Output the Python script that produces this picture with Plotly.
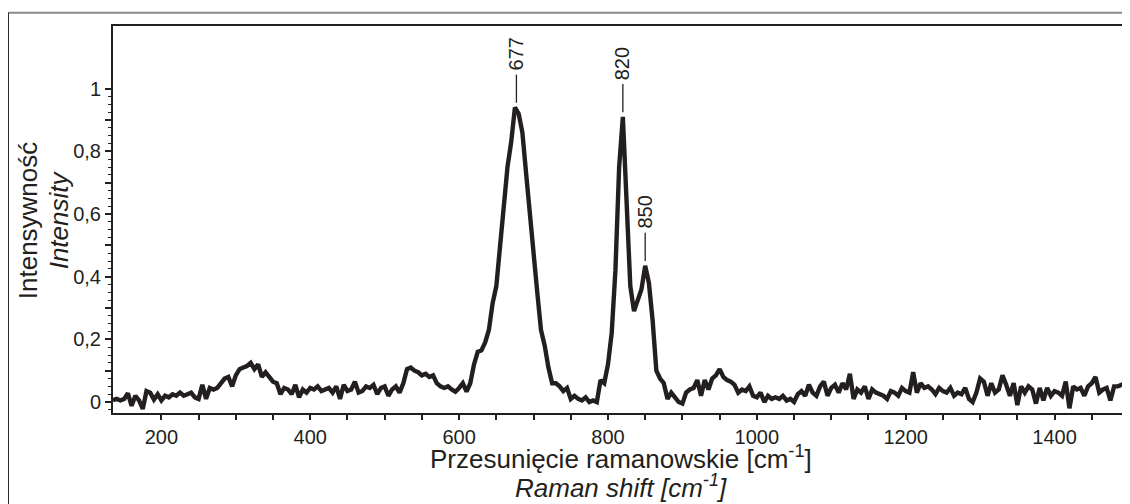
import numpy as np
import plotly.graph_objects as go

# Raman shift grid (cm^-1), sampled every 5 cm^-1
shift_start, shift_stop, shift_step = 135, 1500, 5

# Intensity (normalised)
intensity = [
    0.006, 0.01, 0.005, 0.01, 0.028, -0.012, 0.02, 0.005, -0.022, 0.035,   # 135-180
    0.03, 0.008, 0.025, 0.005, 0.02, 0.015, 0.025, 0.02, 0.03, 0.02,       # 185-230
    0.025, 0.03, 0.015, 0.01, 0.055, 0.01, 0.045, 0.04, 0.045, 0.06,       # 235-280
    0.075, 0.08, 0.05, 0.085, 0.105, 0.11, 0.115, 0.125, 0.105, 0.12,      # 285-330
    0.08, 0.095, 0.08, 0.065, 0.06, 0.025, 0.045, 0.04, 0.025, 0.055,      # 335-380
    0.015, 0.04, 0.03, 0.045, 0.04, 0.05, 0.035, 0.04, 0.045, 0.03,        # 385-430
    0.05, 0.01, 0.055, 0.035, 0.04, 0.065, 0.03, 0.035, 0.05, 0.045,       # 435-480
    0.055, 0.025, 0.045, 0.05, 0.02, 0.04, 0.05, 0.03, 0.06, 0.105,        # 485-530
    0.11, 0.1, 0.095, 0.085, 0.09, 0.08, 0.085, 0.06, 0.05, 0.045,         # 535-580
    0.05, 0.04, 0.033, 0.045, 0.06, 0.033, 0.06, 0.12, 0.16, 0.165,        # 585-630
    0.19, 0.23, 0.315, 0.37, 0.5, 0.62, 0.75, 0.83, 0.94, 0.92,            # 635-680
    0.86, 0.73, 0.59, 0.45, 0.35, 0.23, 0.18, 0.11, 0.06, 0.06,            # 685-730
    0.05, 0.035, 0.045, 0.01, 0.02, 0.01, 0.005, 0.015, 0.0, 0.005,        # 735-780
    0.0, 0.07, 0.06, 0.12, 0.22, 0.42, 0.75, 0.91, 0.6, 0.37,              # 785-830
    0.29, 0.33, 0.36, 0.435, 0.38, 0.26, 0.1, 0.075, 0.06, 0.01,           # 835-880
    0.03, 0.015, 0.0, -0.005, 0.03, 0.04, 0.045, 0.07, 0.02, 0.07,         # 885-930
    0.04, 0.075, 0.085, 0.105, 0.08, 0.07, 0.065, 0.055, 0.03, 0.04,       # 935-980
    0.035, 0.05, 0.02, 0.015, 0.03, 0.0, 0.02, 0.01, 0.015, 0.01,          # 985-1030
    0.02, 0.005, 0.01, 0.0, 0.025, 0.035, 0.02, 0.055, 0.03, 0.02,         # 1035-1080
    0.05, 0.065, 0.02, 0.045, 0.055, 0.03, 0.06, 0.04, 0.09, 0.01,         # 1085-1130
    0.04, 0.03, 0.05, 0.01, 0.04, 0.03, 0.025, 0.02, 0.01, 0.035,          # 1135-1180
    0.03, 0.02, 0.045, 0.035, 0.03, 0.095, 0.03, 0.06, 0.045, 0.05,        # 1185-1230
    0.04, 0.025, 0.045, 0.035, 0.03, 0.045, 0.02, 0.03, 0.025, 0.045,      # 1235-1280
    0.01, 0.0, 0.03, 0.075, 0.065, 0.02, 0.06, 0.03, 0.04, 0.085,          # 1285-1330
    0.055, 0.02, 0.06, -0.01, 0.05, 0.03, 0.05, 0.04, -0.005, 0.045,       # 1335-1380
    0.005, 0.045, 0.02, 0.035, 0.03, 0.02, 0.065, -0.02, 0.05, 0.04,       # 1385-1430
    0.045, 0.02, 0.05, 0.06, 0.08, 0.03, 0.04, 0.045, 0.005, 0.05,         # 1435-1480
    0.05, 0.055, 0.06, 0.07,                                               # 1485-1500
]
shift = np.arange(shift_start, shift_stop + 1, shift_step)
assert len(shift) == len(intensity)

# Labelled peaks
peak_labels = [677, 820, 850]

# Tick labels
x_tick_vals = [200, 400, 600, 800, 1000, 1200, 1400]
y_tick_vals = [0, 0.1, 0.2, 0.3, 0.4, 0.5, 0.6, 0.7, 0.8, 0.9, 1.0]
y_tick_text = ["0", "", "0,2", "", "0,4", "", "0,6", "", "0,8", "", "1"]

# Axis titles
x_title = ["Przesunięcie ramanowskie [cm<sup>-1</sup>]", "<i>Raman shift [cm<sup>-1</sup>]</i>"]
y_title = ["Intensywność", "<i>Intensity</i>"]

INK = "#231f20"
FONT = "Liberation Sans, Arial, Helvetica, sans-serif"

fig = go.Figure()
fig.add_trace(go.Scatter(
    x=shift, y=intensity, mode="lines",
    line=dict(color=INK, width=4.4), showlegend=False, hoverinfo="skip",
))

x_minor = [v for v in range(250, 1501, 50) if v % 200 != 0]
y_minor = [round(i * 0.025, 3) for i in range(-1, 41) if i % 4 != 0]

fig.update_xaxes(
    range=[135, 1500], showgrid=False, zeroline=False,
    showline=True, mirror=True, linecolor=INK, linewidth=2,
    ticks="outside", ticklen=5, tickwidth=1.5, tickcolor=INK,
    tickmode="array", tickvals=x_tick_vals,
    tickfont=dict(family=FONT, size=20, color=INK),
    minor=dict(tickmode="array", tickvals=x_minor, ticks="outside",
               ticklen=5, tickwidth=1.5, tickcolor=INK, showgrid=False),
)
fig.update_yaxes(
    range=[-0.035, 1.2], showgrid=False, zeroline=False,
    showline=True, mirror=True, linecolor=INK, linewidth=2,
    ticks="outside", ticklen=6, tickwidth=1.5, tickcolor=INK,
    tickmode="array", tickvals=y_tick_vals, ticktext=y_tick_text,
    tickfont=dict(family=FONT, size=20, color=INK),
    minor=dict(tickmode="array", tickvals=y_minor, ticks="outside",
               ticklen=3.5, tickwidth=1.2, tickcolor=INK, showgrid=False),
)

shapes = []
annotations = []
# Peak markers: short vertical line above the peak and rotated label
for p in peak_labels:
    near = [v for s, v in zip(shift, intensity) if abs(s - p) <= 5]
    top = max(near)
    y0 = top + 0.015
    y1 = y0 + 0.09
    shapes.append(dict(type="line", xref="x", yref="y", x0=p, x1=p, y0=y0, y1=y1,
                       line=dict(color=INK, width=1.3)))
    annotations.append(dict(
        x=p, y=y1, xref="x", yref="y", text=str(p), showarrow=False,
        textangle=-90, xanchor="center", yanchor="bottom", yshift=2,
        font=dict(family=FONT, size=20, color=INK),
    ))

# Axis titles, one annotation per line
for txt, yy in zip(x_title, [-0.116, -0.19]):
    annotations.append(dict(
        x=0.5, y=yy, xref="paper", yref="paper", text=txt,
        showarrow=False, xanchor="center", yanchor="middle",
        font=dict(family=FONT, size=26, color=INK),
    ))
for txt, xx in zip(y_title, [-0.0837, -0.0531]):
    annotations.append(dict(
        x=xx, y=0.498, xref="paper", yref="paper", text=txt,
        showarrow=False, textangle=-90, xanchor="center", yanchor="middle",
        font=dict(family=FONT, size=26, color=INK),
    ))

# Outer frame (top grey rule and left rule)
shapes.append(dict(type="line", xref="paper", yref="paper",
                   x0=-0.1033, x1=1.01, y0=1.0344, y1=1.0344,
                   line=dict(color="#8a8a8a", width=2)))
shapes.append(dict(type="line", xref="paper", yref="paper",
                   x0=-0.1030, x1=-0.1030, y0=1.0344, y1=-0.3,
                   line=dict(color=INK, width=1.2)))

# The page body adds an 8 px offset, so the figure is 8 px smaller each way
fig.update_layout(
    width=1122, height=496,
    margin=dict(l=105, r=1, t=18, b=91, autoexpand=False),
    plot_bgcolor="white", paper_bgcolor="white",
    shapes=shapes, annotations=annotations,
    font=dict(family=FONT, color=INK),
)

fig.write_html("out.html")
